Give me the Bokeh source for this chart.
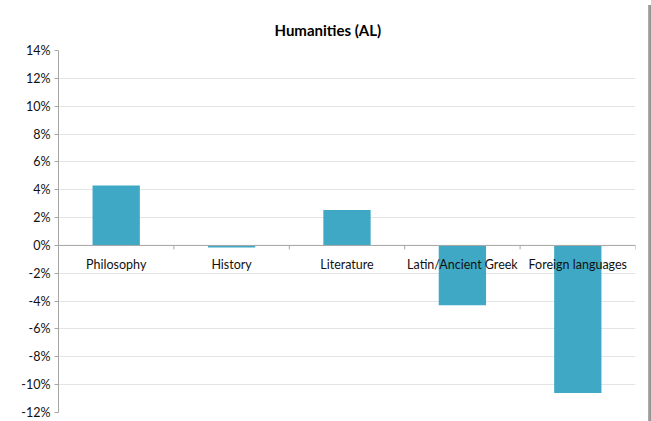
from bokeh.plotting import figure
from bokeh.models import Range1d, FixedTicker, NumeralTickFormatter, Span, ColumnDataSource, Div
from bokeh.layouts import row
from bokeh.core.properties import value
from bokeh.embed import file_html
from bokeh.resources import INLINE
import math

categories = ["Philosophy", "History", "Literature", "Latin/Ancient Greek", "Foreign languages"]
values = [0.043, -0.0015, 0.0255, -0.043, -0.106]
y_ticks = [-0.12, -0.10, -0.08, -0.06, -0.04, -0.02, 0.0, 0.02, 0.04, 0.06, 0.08, 0.10, 0.12, 0.14]

centers = [i + 0.5 for i in range(len(categories))]
boundaries = [i + 1 for i in range(len(categories))]

p = figure(width=643, height=421, output_backend="svg", toolbar_location=None,
           x_range=Range1d(0, len(categories)), y_range=Range1d(-0.12, 0.14),
           min_border_left=58, min_border_right=8, min_border_top=50, min_border_bottom=9)

p.outline_line_color = None
p.background_fill_color = "white"
p.border_fill_color = "white"

p.title.text = "Humanities (AL)"
p.title.align = "left"
p.title.offset = 216
p.title.standoff = 23
p.title.text_font = "Lato"
p.title.text_font_size = "15px"
p.title.text_font_style = "bold"
p.title.text_color = "#000000"

p.xaxis.visible = False
p.xgrid.visible = False
p.ygrid.ticker = FixedTicker(ticks=y_ticks)
p.ygrid.grid_line_color = "#E4E4E4"
p.ygrid.grid_line_width = 1

p.yaxis.ticker = FixedTicker(ticks=y_ticks)
p.yaxis.formatter = NumeralTickFormatter(format="0%")
p.yaxis.major_tick_out = 4
p.yaxis.major_tick_in = 0
p.yaxis.minor_tick_line_color = None
p.yaxis.axis_line_color = "#A6A6A6"
p.yaxis.major_tick_line_color = "#A6A6A6"
p.yaxis.major_label_text_font = "Lato"
p.yaxis.major_label_text_font_size = "12.5px"
p.yaxis.major_label_text_color = "#111111"
p.yaxis.major_label_standoff = 4

src = ColumnDataSource(dict(x=centers, top=values, cat=categories))
p.vbar(x="x", top="top", bottom=0, width=0.41, source=src,
       fill_color="#3FA9C5", line_color=None)

zero = Span(location=0, dimension="width", line_color="#A6A6A6", line_width=1)
p.add_layout(zero)

p.ray(x=boundaries, y=[0] * len(boundaries), length=4, length_units="screen",
      angle=-math.pi / 2, line_color="#A6A6A6", line_width=1)

p.text(x=centers, y=[0] * len(centers), text=categories, y_offset=12,
       text_align="center", text_baseline="top", text_font=value("Lato"),
       text_font_size="12.5px", text_color="#111111")

shadow = Div(width=8, height=421, styles={"background": "linear-gradient(to right, #b0b0b0, #8a8a8a 40%, #d8d8d8)"})

layout = row(p, shadow, spacing=0)

open("out.html", "w").write(file_html(layout, INLINE))
